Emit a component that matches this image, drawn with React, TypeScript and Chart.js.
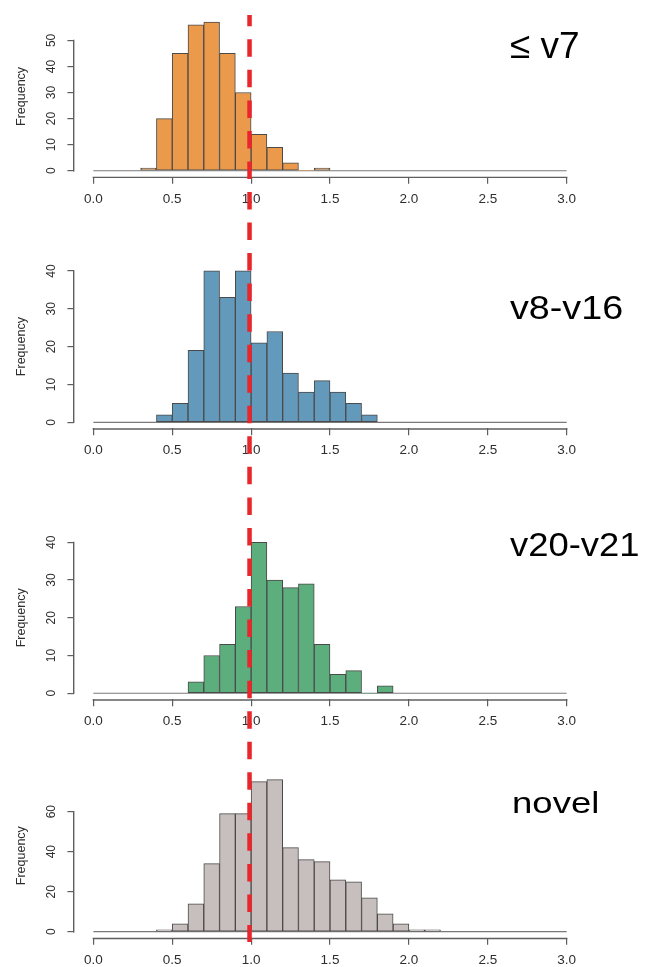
import React, { useEffect, useRef } from "react";
import { Chart, registerables } from "chart.js";

Chart.register(...registerables);

// ---------------- data ----------------
const X_TICKS = [0, 0.5, 1, 1.5, 2, 2.5, 3];
const BREAKS_RANGE = [0, 3];
const BIN_WIDTH = 0.1;
const REF_VALUE = 0.99;

const V7_LABEL = "≤ v7";
const V7_FIRST_BREAK = 0.3;
const V7_COUNTS = [1, 20, 45, 56, 57, 45, 30, 14, 9, 3, 0, 1];
const V7_YTICKS = [0, 10, 20, 30, 40, 50];

const V8_LABEL = "v8-v16";
const V8_FIRST_BREAK = 0.4;
const V8_COUNTS = [2, 5, 19, 40, 33, 40, 21, 24, 13, 8, 11, 8, 5, 2];
const V8_YTICKS = [0, 10, 20, 30, 40];

const V20_LABEL = "v20-v21";
const V20_FIRST_BREAK = 0.6;
const V20_COUNTS = [3, 10, 13, 23, 40, 30, 28, 29, 13, 5, 6, 0, 2];
const V20_YTICKS = [0, 10, 20, 30, 40];

const NOVEL_LABEL = "novel";
const NOVEL_FIRST_BREAK = 0.4;
const NOVEL_COUNTS = [1, 4, 14, 34, 59, 59, 75, 76, 42, 36, 35, 26, 25, 17, 9, 4, 1, 1];
const NOVEL_YTICKS = [0, 20, 40, 60];

// ---------------- styling / layout ----------------
const FONT = '"Liberation Sans", Arial, Helvetica, sans-serif';
const TEXT_COLOR = "#2e2e2e";
const AXIS_COLOR = "#5e5e5e";
const BAR_BORDER = "#4a4a4a";
const RED = "#e8262b";
const W = 652;
const CHART_LEFT = 74.4;
const CHART_RIGHT = 585.6;
const X_AXIS_H = 28;
const REF_TOP = 15;
const REF_BOTTOM = 942;
const DASH = 17.5;
const PERIOD = 30.54;
const DASH_PHASE = 8.76;

type PanelCfg = {
  label: string;
  first: number;
  counts: number[];
  yTicks: number[];
  color: string;
  top: number;
  bottom: number;
  chartTop: number;
  chartBottom: number;
  labelSize: number;
  labelScale: number;
  labelLeft: number;
  labelBaseline: number;
};

const PANELS: PanelCfg[] = [
  { label: V7_LABEL, first: V7_FIRST_BREAK, counts: V7_COUNTS, yTicks: V7_YTICKS, color: "#eb9a4c",
    top: 0, bottom: 220, chartTop: 13.7, chartBottom: 176.7,
    labelSize: 37, labelScale: 1.0, labelLeft: 510, labelBaseline: 58 },
  { label: V8_LABEL, first: V8_FIRST_BREAK, counts: V8_COUNTS, yTicks: V8_YTICKS, color: "#6399ba",
    top: 220, bottom: 490, chartTop: 264.9, chartBottom: 428.35,
    labelSize: 32.5, labelScale: 1.16, labelLeft: 510, labelBaseline: 320 },
  { label: V20_LABEL, first: V20_FIRST_BREAK, counts: V20_COUNTS, yTicks: V20_YTICKS, color: "#5dae7d",
    top: 490, bottom: 730, chartTop: 536.3, chartBottom: 699.3,
    labelSize: 32.5, labelScale: 1.12, labelLeft: 510, labelBaseline: 557 },
  { label: NOVEL_LABEL, first: NOVEL_FIRST_BREAK, counts: NOVEL_COUNTS, yTicks: NOVEL_YTICKS, color: "#c7bfbd",
    top: 730, bottom: 967, chartTop: 773.6, chartBottom: 937.8,
    labelSize: 29, labelScale: 1.26, labelLeft: 511.7, labelBaseline: 814 },
];

const makeAxisLinePlugin = (cfg: PanelCfg) => ({
  id: "rAxisLines",
  afterDraw(chart: any) {
    const { ctx, chartArea, scales } = chart;
    const x = scales.x;
    const y = scales.y;
    ctx.save();
    ctx.setLineDash([]);
    ctx.strokeStyle = AXIS_COLOR;
    ctx.lineWidth = 1.4;
    ctx.lineCap = "butt";
    const by = chartArea.bottom + 0.7;
    ctx.beginPath();
    ctx.moveTo(x.getPixelForValue(X_TICKS[0]) - 0.7, by);
    ctx.lineTo(x.getPixelForValue(X_TICKS[X_TICKS.length - 1]) + 0.7, by);
    ctx.stroke();
    const lx = chartArea.left - 0.7;
    const y0 = y.getPixelForValue(cfg.yTicks[0]);
    const y1 = y.getPixelForValue(cfg.yTicks[cfg.yTicks.length - 1]);
    ctx.beginPath();
    ctx.moveTo(lx, y0 + 0.7);
    ctx.lineTo(lx, y1 - 0.7);
    ctx.stroke();
    ctx.restore();
  },
});

const makeRefLinePlugin = (cfg: PanelCfg) => ({
  id: "refLine",
  afterDraw(chart: any) {
    const { ctx, scales } = chart;
    const px = scales.x.getPixelForValue(REF_VALUE);
    const a = Math.max(REF_TOP, cfg.top);
    const b = Math.min(REF_BOTTOM, cfg.bottom);
    if (b <= a) return;
    ctx.save();
    ctx.strokeStyle = RED;
    ctx.lineWidth = 4.5;
    ctx.setLineDash([DASH, PERIOD - DASH]);
    ctx.lineDashOffset = (((a - DASH_PHASE) % PERIOD) + PERIOD) % PERIOD;
    ctx.beginPath();
    ctx.moveTo(px, a - cfg.top);
    ctx.lineTo(px, b - cfg.top);
    ctx.stroke();
    ctx.restore();
  },
});

function Panel({ cfg }: { cfg: PanelCfg }) {
  const ref = useRef<HTMLCanvasElement>(null);
  useEffect(() => {
    const canvas = ref.current;
    if (!canvas) return;
    const ymax = Math.max(...cfg.counts);
    const bars = cfg.counts.map((c, i) => ({ x: cfg.first + (i + 0.5) * BIN_WIDTH, y: c }));
    const base = BREAKS_RANGE.map((v) => ({ x: v, y: 0 }));
    const chart = new Chart(canvas, {
      type: "bar",
      data: {
        datasets: [
          {
            type: "bar",
            data: bars as any,
            backgroundColor: cfg.color,
            borderColor: BAR_BORDER,
            borderWidth: (ctx: any) => (ctx.raw && ctx.raw.y === 0 ? 0 : 1),
            borderSkipped: false,
            barPercentage: 1,
            categoryPercentage: 1,
            order: 1,
          } as any,
          {
            type: "line",
            data: base as any,
            borderColor: "#7a7a7a",
            borderWidth: 1.2,
            pointRadius: 0,
            order: 2,
          } as any,
        ],
      },
      options: {
        responsive: false,
        animation: false,
        events: [],
        layout: {
          padding: {
            left: 0,
            right: W - CHART_RIGHT,
            top: cfg.chartTop - cfg.top,
            bottom: cfg.bottom - cfg.chartBottom - X_AXIS_H,
          },
        },
        plugins: { legend: { display: false }, tooltip: { enabled: false } },
        scales: {
          x: {
            type: "linear",
            min: BREAKS_RANGE[0] - 0.04 * (BREAKS_RANGE[1] - BREAKS_RANGE[0]),
            max: BREAKS_RANGE[1] + 0.04 * (BREAKS_RANGE[1] - BREAKS_RANGE[0]),
            bounds: "data",
            offset: false,
            grid: { display: true, drawOnChartArea: false, drawTicks: true, tickLength: 7, color: AXIS_COLOR, lineWidth: 1.2, offset: false },
            border: { display: false },
            ticks: {
              autoSkip: false,
              maxRotation: 0,
              minRotation: 0,
              padding: 7,
              color: TEXT_COLOR,
              font: { family: FONT, size: 13.5 },
              callback: (v: any) => Number(v).toFixed(1),
            },
            afterBuildTicks: (s: any) => {
              s.ticks = X_TICKS.map((v) => ({ value: v }));
            },
            afterFit: (s: any) => {
              s.height = X_AXIS_H;
            },
          } as any,
          y: {
            type: "linear",
            min: -0.04 * ymax,
            max: 1.04 * ymax,
            bounds: "data",
            grid: { display: true, drawOnChartArea: false, drawTicks: true, tickLength: 7, color: AXIS_COLOR, lineWidth: 1.2 },
            border: { display: false },
            ticks: {
              autoSkip: false,
              minRotation: 90,
              maxRotation: 90,
              crossAlign: "center",
              padding: 9,
              color: TEXT_COLOR,
              font: { family: FONT, size: 12 },
              callback: (v: any) => String(v),
            },
            afterBuildTicks: (s: any) => {
              s.ticks = cfg.yTicks.map((v) => ({ value: v }));
            },
            afterFit: (s: any) => {
              s.width = CHART_LEFT;
            },
            title: {
              display: true,
              text: "Frequency",
              color: TEXT_COLOR,
              font: { family: FONT, size: 12.5 },
              padding: { top: 14.5, bottom: 0 },
            },
          } as any,
        },
      },
      plugins: [makeAxisLinePlugin(cfg), makeRefLinePlugin(cfg)],
    } as any);
    return () => chart.destroy();
  }, [cfg]);

  const h = cfg.bottom - cfg.top;
  return (
    <>
      <canvas
        ref={ref}
        width={W}
        height={h}
        style={{ position: "absolute", left: 0, top: cfg.top, width: W, height: h, display: "block" }}
      />
      <div
        style={{
          position: "absolute",
          left: cfg.labelLeft,
          top: cfg.labelBaseline - 0.8465 * cfg.labelSize,
          fontFamily: FONT,
          fontSize: cfg.labelSize,
          lineHeight: `${cfg.labelSize}px`,
          color: "#000",
          whiteSpace: "nowrap",
          transform: `scaleX(${cfg.labelScale})`,
          transformOrigin: "left top",
        }}
      >
        {cfg.label}
      </div>
    </>
  );
}

export default function App() {
  return (
    <div
      style={{
        position: "absolute",
        left: 0,
        top: 0,
        width: W,
        height: 967,
        background: "#fff",
        overflow: "hidden",
      }}
    >
      {PANELS.map((p) => (
        <Panel key={p.label} cfg={p} />
      ))}
    </div>
  );
}
